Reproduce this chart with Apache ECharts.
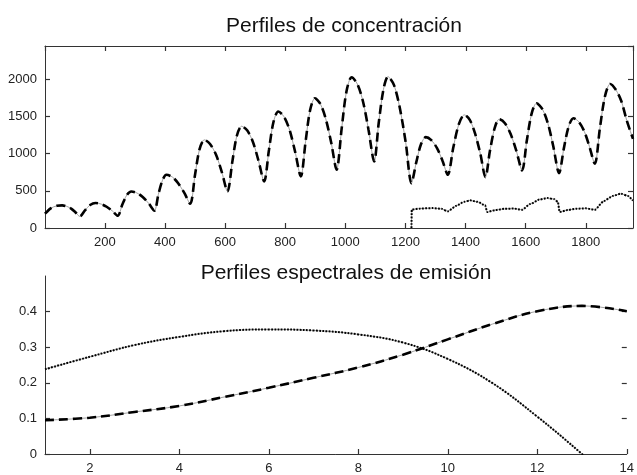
<!DOCTYPE html>
<html>
<head>
<meta charset="utf-8">
<script src="https://cdn.jsdelivr.net/npm/echarts@6/dist/echarts.min.js"></script>
<style>
  html, body { margin: 0; padding: 0; background: #fff; }
  #chart { width: 637px; height: 475px; }
</style>
</head>
<body>
<div id="chart"></div>
<script>
// perfiles de concentración
var concX = [1, 20, 40, 58, 73, 88, 102, 117,
  134, 151, 169, 188, 206, 225, 243,
  258, 273, 288, 307, 326, 346, 365,
  378, 392, 405, 425, 444, 464, 484,
  500, 515, 531, 550, 570, 589, 608,
  624, 639, 655, 674, 693, 711, 730,
  746, 761, 777, 796, 815, 833, 852,
  868, 883, 899, 917, 935, 953, 971,
  988, 1004, 1021, 1040, 1059, 1077, 1096,
  1111, 1127, 1142, 1162, 1181, 1201, 1220,
  1236, 1252, 1268, 1286, 1305, 1323, 1341,
  1359, 1378, 1396, 1414, 1431, 1449, 1466,
  1481, 1497, 1512, 1531, 1550, 1569, 1588,
  1604, 1620, 1636, 1655, 1674, 1692, 1711,
  1727, 1743, 1759, 1777, 1795, 1812, 1830,
  1847, 1864, 1881, 1900, 1918, 1936, 1957];
var concA = [192, 265, 298, 304, 292, 261, 212, 156,
  237, 309, 336, 322, 286, 230, 165,
  312, 443, 492, 471, 417, 331, 233,
  450, 644, 716, 685, 603, 475, 327,
  714, 1058, 1187, 1131, 985, 756, 492,
  887, 1238, 1370, 1311, 1155, 909, 627,
  1050, 1427, 1568, 1498, 1315, 1026, 694,
  1168, 1589, 1747, 1670, 1468, 1150, 784,
  1344, 1842, 2029, 1938, 1700, 1327, 896,
  1410, 1867, 2038, 1923, 1622, 1149, 604,
  883, 1130, 1223, 1182, 1076, 909, 716,
  1079, 1402, 1523, 1456, 1280, 1003, 685,
  1036, 1348, 1465, 1410, 1265, 1037, 775,
  1182, 1543, 1679, 1604, 1406, 1096, 739,
  1072, 1367, 1478, 1429, 1300, 1097, 864,
  1348, 1778, 1939, 1860, 1710, 1450, 1200];
// segundo componente, aparece a partir de ~1220
var concBX = [1220, 1221, 1250, 1290, 1320, 1341, 1370, 1395, 1415, 1440, 1465, 1472,
  1500, 1530, 1560, 1588, 1615, 1645, 1673, 1695, 1707, 1713,
  1740, 1770, 1800, 1830, 1860, 1890, 1917, 1940, 1957];
var concB = [0, 248, 262, 268, 258, 225, 300, 352, 372, 352, 305, 215,
  242, 258, 262, 246, 322, 382, 403, 388, 352, 215,
  242, 260, 265, 246, 362, 432, 462, 432, 368];

// perfiles espectrales
var waveX = [1, 2, 3, 4, 5, 6, 7, 8, 9, 10, 11, 12, 13, 14];
var specA = [0.095, 0.102, 0.118, 0.135, 0.160, 0.186, 0.214, 0.243, 0.279, 0.322, 0.365, 0.401, 0.416, 0.401];
var specB = [0.238, 0.273, 0.306, 0.329, 0.345, 0.350, 0.347, 0.336, 0.313, 0.267, 0.199, 0.105, 0.0, -0.11];

var concXTicks = [200, 400, 600, 800, 1000, 1200, 1400, 1600, 1800];
var concYTicks = [0, 500, 1000, 1500, 2000];
var waveTicks = [2, 4, 6, 8, 10, 12, 14];
var specYTicks = [0, 0.1, 0.2, 0.3, 0.4];
var specRightTicks = [0.1, 0.2, 0.3, 0.4];

function pairs(xs, ys) {
  return xs.map(function (x, i) { return [x, ys[i]]; });
}

var FONT = '"Liberation Sans", Arial, sans-serif';
var axisCol = '#333';
var lbl = { fontFamily: FONT, fontSize: 13, color: '#222', margin: 8,
  formatter: function (v) { return String(v); } };

function axisCommon(ticks, showLabel, showLine) {
  return {
    type: 'value',
    axisLine: { show: showLine, onZero: false, lineStyle: { color: axisCol, width: 1 } },
    axisTick: { show: true, inside: true, length: 5, customValues: ticks, lineStyle: { color: axisCol, width: 1.2 } },
    axisLabel: Object.assign({ show: showLabel, customValues: ticks }, lbl),
    splitLine: { show: false }
  };
}

// ejes espejo (arriba / derecha) del panel superior, solo línea y marcas
function mirrorAxis(pos, max, step) {
  return {
    type: 'value', gridIndex: 2, position: pos, min: 0, max: max, interval: step,
    axisLine: { show: true, onZero: false, lineStyle: { color: axisCol, width: 1 } },
    axisTick: { show: true, inside: true, length: 5, lineStyle: { color: axisCol, width: 1.2 } },
    axisLabel: { show: false },
    splitLine: { show: false }
  };
}

var chart = echarts.init(document.getElementById('chart'));

var xAxes = [
  Object.assign(axisCommon(concXTicks, true, true), { gridIndex: 0, position: 'bottom', min: 1, max: 1957 }),
  Object.assign(axisCommon(waveTicks, true, true), { gridIndex: 1, position: 'bottom', min: 1, max: 14 }),
  mirrorAxis('top', 1956, 200)
];
var yAxes = [
  Object.assign(axisCommon(concYTicks, true, true), { gridIndex: 0, position: 'left', min: 0, max: 2450 }),
  Object.assign(axisCommon(specYTicks, true, true), { gridIndex: 1, position: 'left', min: 0, max: 0.5 }),
  Object.assign(axisCommon(specRightTicks, false, false), { gridIndex: 1, position: 'right', min: 0, max: 0.5 }),
  mirrorAxis('right', 2450, 500)
];

var dashed = { color: '#000', width: 2.6, type: [9, 5] };
var dotted = { color: '#000', width: 2, type: [1.8, 1.4] };
var thin = { color: '#a0a0a0', width: 1 };

function line(data, xi, yi, style, smooth, z, mono) {
  var s = {
    type: 'line', data: data, xAxisIndex: xi, yAxisIndex: yi,
    showSymbol: false, symbol: 'none', smooth: smooth,
    lineStyle: style, z: z, silent: true
  };
  if (mono) s.smoothMonotone = 'x';
  return s;
}

chart.setOption({
  animation: false,
  backgroundColor: '#fff',
  title: [
    { text: 'Perfiles de concentración', left: 339, top: 11, textAlign: 'center',
      textStyle: { fontFamily: FONT, fontSize: 21, fontWeight: 'normal', color: '#111' } },
    { text: 'Perfiles espectrales de emisión', left: 341, top: 258, textAlign: 'center',
      textStyle: { fontFamily: FONT, fontSize: 21, fontWeight: 'normal', color: '#111' } }
  ],
  grid: [
    { left: 45, right: 4, top: 46, height: 182 },
    { left: 45, right: 5, top: 276, height: 178 },
    { left: 45, right: 4, top: 46, height: 182 }
  ],
  xAxis: xAxes,
  yAxis: yAxes,
  series: [
    line(pairs(concX, concA), 0, 0, thin, 0.3, 2),
    line(pairs(concX, concA), 0, 0, dashed, 0.3, 3),
    line(pairs(concBX, concB), 0, 0, thin, 0.2, 2, true),
    line(pairs(concBX, concB), 0, 0, dotted, 0.2, 3, true),
    line(pairs(waveX, specA), 1, 1, thin, 0.4, 2),
    line(pairs(waveX, specA), 1, 1, dashed, 0.4, 3),
    line(pairs(waveX, specB), 1, 1, thin, 0.4, 2),
    line(pairs(waveX, specB), 1, 1, dotted, 0.4, 3)
  ]
});
</script>
</body>
</html>
